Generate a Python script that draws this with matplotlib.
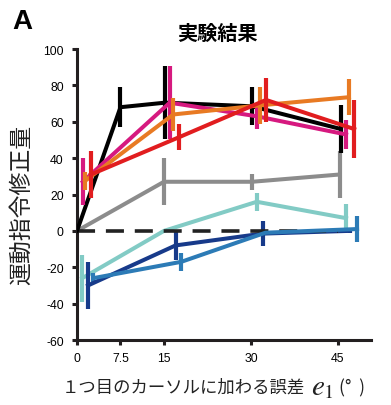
import matplotlib
matplotlib.use("Agg")
import matplotlib.pyplot as plt

plt.rcParams["font.family"] = ["Liberation Sans", "Noto Sans CJK JP", "DejaVu Sans"]
plt.rcParams["axes.unicode_minus"] = False
plt.rcParams["mathtext.fontset"] = "stix"

JP = ["Noto Sans CJK JP", "DejaVu Sans"]

# data (x slightly offset per series, as drawn)
black_x = [0, 7.5, 15.2, 30.2, 45.5]
black_y = [0, 68, 70.5, 68.5, 56]
black_err = [0, 11, 20, 10.5, 13]

magenta_x = [1.0, 16.0, 31.0, 46.4]
magenta_y = [27, 70.5, 63, 53]
magenta_err = [13, 20, 7, 8]

orange_x = [1.4, 16.6, 31.5, 46.9]
orange_y = [27.5, 64, 69, 73.5]
orange_err = [5, 9, 10, 10]

red_x = [2.4, 17.6, 32.6, 47.8]
red_y = [31, 51.5, 72, 56]
red_err = [13, 7, 12, 16]

gray_x = [0, 15.0, 30.2, 45.3]
gray_y = [0, 27, 27, 31]
gray_err = [0, 13, 4.5, 13]

teal_x = [0.9, 15.0, 31.0, 46.4]
teal_y = [-26, 0, 16, 7]
teal_err = [13, 0.5, 5, 8]

navy_x = [1.9, 17.0, 32.0, 47.0]
navy_y = [-30, -8, -1.5, 0]
navy_err = [13, 8, 7, 1]

blue_x = [2.8, 18.0, 32.5, 48.3]
blue_y = [-26, -17, -1, 1]
blue_err = [3, 5, 1, 7]

xticks = [0, 7.5, 15, 30, 45]
xtick_labels = ["0", "7.5", "15", "30", "45"]
yticks = [-60, -40, -20, 0, 20, 40, 60, 80, 100]

series = [
    (gray_x, gray_y, gray_err, "#8c8c8c"),
    (teal_x, teal_y, teal_err, "#82cbc5"),
    (navy_x, navy_y, navy_err, "#173a8a"),
    (blue_x, blue_y, blue_err, "#2c7bb6"),
    (black_x, black_y, black_err, "#000000"),
    (magenta_x, magenta_y, magenta_err, "#d6197f"),
    (orange_x, orange_y, orange_err, "#e87a23"),
    (red_x, red_y, red_err, "#e11d1f"),
]

fig = plt.figure(figsize=(3.91, 4.06), dpi=100)
ax = fig.add_axes([77 / 391, 1 - 341 / 406, (371 - 77) / 391, (341 - 50) / 406])

for i, (x, y, e, c) in enumerate(series):
    ax.errorbar(x, y, yerr=e, color=c, lw=2.9, elinewidth=3.0, capsize=0,
                zorder=3 + i * 0.1)
    if i == 3:
        # zero reference line sits above the blue series
        ax.plot([0, 45], [0, 0], color="#222222", lw=2.6, dashes=(5, 3),
                zorder=3.35)

ax.set_xlim(0, 50.7)
ax.set_ylim(-60, 100)
ax.set_xticks(xticks)
ax.set_xticklabels(xtick_labels)
ax.set_yticks(yticks)
for s in ("top", "right"):
    ax.spines[s].set_visible(False)
for s in ("left", "bottom"):
    ax.spines[s].set_linewidth(2.2)
    ax.spines[s].set_color("#231f20")
ax.tick_params(direction="out", length=3.5, width=2.2, color="#231f20",
               labelsize=8.8, pad=5)
ax.tick_params(axis="y", pad=6)

fig.text(12 / 391, 1 - 22 / 406, "A", fontsize=20, fontweight="bold",
         va="center", ha="left")
fig.text(217 / 391, 1 - 33 / 406, "実験結果", fontsize=14.5, fontweight="bold",
         ha="center", va="center", family=JP)
fig.text(21 / 391, 1 - 205 / 406, "運動指令修正量", fontsize=16.5,
         rotation=90, ha="center", va="center", family=JP, color="#222222")
fig.text(62 / 391, 1 - 388 / 406, "１つ目のカーソルに加わる誤差",
         fontsize=12.5, ha="left", va="center", family=JP, color="#222222")
fig.text(311 / 391, 1 - 387 / 406, "$e_1$", fontsize=21, ha="left",
         va="center", color="#222222")
fig.text(339 / 391, 1 - 388 / 406, "(°  )", fontsize=12.5, ha="left",
         va="center", family=JP, color="#222222")

fig.savefig("out.png", dpi=100)
